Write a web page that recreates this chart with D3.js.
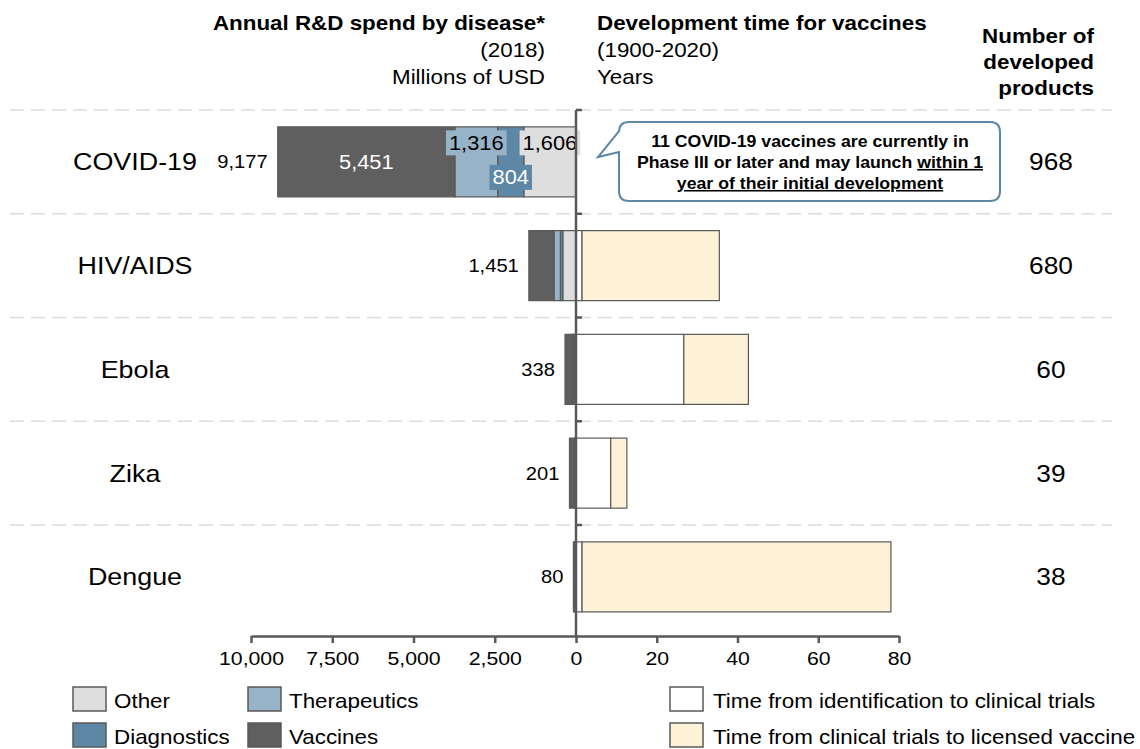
<!DOCTYPE html>
<html><head><meta charset="utf-8">
<script src="https://cdn.jsdelivr.net/npm/d3@7"></script>
<style>
html,body{margin:0;padding:0;background:#fff;}
svg{display:block;font-family:"Liberation Sans",Arial,sans-serif;}
</style></head>
<body>
<svg id="chart" width="1140" height="749"></svg>
<script>
// ---------- data ----------
const categories = ["COVID-19", "HIV/AIDS", "Ebola", "Zika", "Dengue"];
const spendTotals = [9177, 1451, 338, 201, 80];
const vaccines = [5451, 775, 220, 160, 60];
const therapeutics = [1316, 195, 40, 15, 8];
const diagnostics = [804, 75, 20, 10, 4];
const other = [1606, 406, 58, 16, 8];
const timeToTrials = [0, 1.5, 26.7, 8.6, 1.5];
const timeToLicense = [0, 34, 16, 4, 76.5];
const products = [968, 680, 60, 39, 38];
const spendTicks = [0, 2500, 5000, 7500, 10000];
const yearTicks = [20, 40, 60, 80];
const spendKeys = ["other", "diagnostics", "therapeutics", "vaccines"];
const spendLabels = {other: "Other", diagnostics: "Diagnostics", therapeutics: "Therapeutics", vaccines: "Vaccines"};
const timeKeys = ["trials", "license"];
const timeLabels = {trials: "Time from identification to clinical trials", license: "Time from clinical trials to licensed vaccine"};

// ---------- styles ----------
const SX = 1.12;
const colors = {other: "#dedede", diagnostics: "#5d87a5", therapeutics: "#97b3c7", vaccines: "#5f5f5f",
                trials: "#ffffff", license: "#fdf1d7"};
const axisColor = "#595959";

const svg = d3.select("#chart");

function txt(g, x, y, s, o = {}) {
  return g.append("text")
    .attr("transform", `translate(${x},${y}) scale(${SX},1)`)
    .attr("font-size", o.size || 20)
    .attr("font-weight", o.bold ? "bold" : "normal")
    .attr("text-anchor", o.anchor || "start")
    .attr("fill", o.fill || "#000")
    .text(s);
}

// ---------- scales ----------
const y = d3.scaleBand().domain(categories).range([110, 628.75]).paddingInner(0.325).paddingOuter(0.1625);
const xL = d3.scaleLinear().domain([0, 10000]).range([576, 251]);
const xR = d3.scaleLinear().domain([0, 80]).range([576, 899]);

const rows = categories.map((c, i) => ({
  cat: c, total: spendTotals[i], vaccines: vaccines[i], therapeutics: therapeutics[i],
  diagnostics: diagnostics[i], other: other[i], trials: timeToTrials[i], license: timeToLicense[i],
  products: products[i]
}));

// ---------- separators ----------
const seps = [110].concat(categories.slice(1).map(c => y(c) - y.step() * y.paddingInner() / 2));
svg.append("g").selectAll("line").data(seps).join("line")
  .attr("x1", 10).attr("x2", 1112).attr("y1", d => d).attr("y2", d => d)
  .attr("stroke", "#dcdcdc").attr("stroke-width", 1.5).attr("stroke-dasharray", "14,7");

// ---------- left stacked bars ----------
const stackL = d3.stack().keys(spendKeys)(rows);
const gL = svg.append("g");
stackL.forEach(layer => {
  gL.append("g").selectAll("rect").data(layer).join("rect")
    .attr("x", d => xL(d[1])).attr("width", d => xL(d[0]) - xL(d[1]))
    .attr("y", d => y(d.data.cat)).attr("height", y.bandwidth())
    .attr("fill", colors[layer.key]).attr("stroke", axisColor).attr("stroke-width", 1.2);
});

// ---------- right stacked bars ----------
const stackR = d3.stack().keys(timeKeys)(rows);
stackR.forEach(layer => {
  svg.append("g").selectAll("rect").data(layer.filter(d => d[1] > d[0])).join("rect")
    .attr("x", d => xR(d[0])).attr("width", d => xR(d[1]) - xR(d[0]))
    .attr("y", d => y(d.data.cat)).attr("height", y.bandwidth())
    .attr("fill", colors[layer.key]).attr("stroke", axisColor).attr("stroke-width", 1.2);
});

// ---------- COVID segment labels ----------
const covid = rows[0];
const segOf = key => stackL.find(l => l.key === key)[0];
const cy = y(covid.cat) + y.bandwidth() / 2;
const gLab = svg.append("g");
function segLabel(key, dy, boxFill, textFill) {
  const s = segOf(key);
  const cx = (xL(s[0]) + xL(s[1])) / 2;
  const val = d3.format(",")(covid[key]);
  const t = txt(gLab, cx, cy + dy + 7, val, {size: 19.5, anchor: "middle", fill: textFill});
  if (boxFill) {
    const w = t.node().getComputedTextLength() * SX + 6;
    gLab.insert("rect", () => t.node())
      .attr("x", cx - w / 2).attr("y", cy + dy - 12.5).attr("width", w).attr("height", 25)
      .attr("fill", boxFill);
  }
}
segLabel("vaccines", 0, null, "#fff");
segLabel("therapeutics", -19, colors.therapeutics, "#000");
segLabel("diagnostics", 15.5, colors.diagnostics, "#fff");
segLabel("other", -19, colors.other, "#000");

// ---------- total labels, categories, products ----------
rows.forEach(r => {
  const c = y(r.cat) + y.bandwidth() / 2;
  txt(svg, xL(r.total) - 10, c + 6.5, d3.format(",")(r.total), {size: 18, anchor: "end"});
  txt(svg, 135, c + 8.5, r.cat, {size: 24, anchor: "middle"});
  txt(svg, 1051, c + 8.5, r.products, {size: 23.5, anchor: "middle"});
});

// ---------- axes ----------
const axisY = 636;
const axL = svg.append("g").attr("transform", `translate(0,${axisY})`)
  .call(d3.axisBottom(xL).tickValues(spendTicks).tickFormat(d3.format(",")).tickSize(7).tickSizeOuter(0).tickPadding(9));
const axR = svg.append("g").attr("transform", `translate(0,${axisY})`)
  .call(d3.axisBottom(xR).tickValues(yearTicks).tickSize(7).tickSizeOuter(0).tickPadding(9));
[axL, axR].forEach(a => {
  a.select(".domain").attr("stroke", axisColor).attr("stroke-width", 2.5);
  a.selectAll(".tick line").attr("stroke", axisColor).attr("stroke-width", 2.5);
  a.selectAll(".tick text").attr("font-size", 19).attr("fill", "#000")
    .attr("font-family", "Liberation Sans, Arial, sans-serif")
    .attr("transform", `scale(${SX},1)`);
});
// vertical zero axis
svg.append("line").attr("x1", xL(0)).attr("x2", xL(0)).attr("y1", 110).attr("y2", axisY)
  .attr("stroke", axisColor).attr("stroke-width", 2.5);
svg.append("g").selectAll("line").data(seps).join("line")
  .attr("x1", xL(0)).attr("x2", xL(0) + 6).attr("y1", d => d).attr("y2", d => d)
  .attr("stroke", axisColor).attr("stroke-width", 2.5);

// ---------- headers ----------
txt(svg, 545, 30, "Annual R&D spend by disease*", {size: 20, bold: true, anchor: "end"});
txt(svg, 545, 57, "(2018)", {size: 20, anchor: "end"});
txt(svg, 545, 84, "Millions of USD", {size: 20, anchor: "end"});
txt(svg, 597, 30, "Development time for vaccines", {size: 20, bold: true});
txt(svg, 597, 57, "(1900-2020)", {size: 20});
txt(svg, 597, 84, "Years", {size: 20});
txt(svg, 1094, 43, "Number of", {size: 20, bold: true, anchor: "end"});
txt(svg, 1094, 69, "developed", {size: 20, bold: true, anchor: "end"});
txt(svg, 1094, 95, "products", {size: 20, bold: true, anchor: "end"});

// ---------- callout ----------
svg.append("path")
  .attr("d", "M629,122 H990 Q1000,122 1000,132 V191 Q1000,201 990,201 H629 Q619,201 619,191 V152 L598,157 L619,131 V132 Q619,122 629,122 Z")
  .attr("fill", "#fff").attr("stroke", "#5d87a5").attr("stroke-width", 2);
const cOpt = {size: 15.8, bold: true, anchor: "middle"};
txt(svg, 810, 147, "11 COVID-19 vaccines are currently in", cOpt);
const l2 = txt(svg, 810, 168, "", cOpt);
l2.append("tspan").text("Phase III or later and may launch ");
l2.append("tspan").attr("text-decoration", "underline").text("within 1");
txt(svg, 810, 189, "year of their initial development", cOpt).attr("text-decoration", "underline");

// ---------- legends ----------
const legL = [
  {key: "other", x: 73, y: 687}, {key: "therapeutics", x: 248, y: 687},
  {key: "diagnostics", x: 73, y: 723}, {key: "vaccines", x: 248, y: 723}
];
legL.forEach(l => {
  svg.append("rect").attr("x", l.x).attr("y", l.y).attr("width", 33).attr("height", 24)
    .attr("fill", colors[l.key]).attr("stroke", axisColor).attr("stroke-width", 1.5);
  txt(svg, l.x + 41, l.y + 21, spendLabels[l.key], {size: 20});
});
const legR = [{key: "trials", x: 670, y: 687}, {key: "license", x: 670, y: 723}];
legR.forEach(l => {
  svg.append("rect").attr("x", l.x).attr("y", l.y).attr("width", 33).attr("height", 24)
    .attr("fill", colors[l.key]).attr("stroke", axisColor).attr("stroke-width", 1.5);
  txt(svg, l.x + 43, l.y + 21, timeLabels[l.key], {size: 20});
});
</script>
</body></html>
